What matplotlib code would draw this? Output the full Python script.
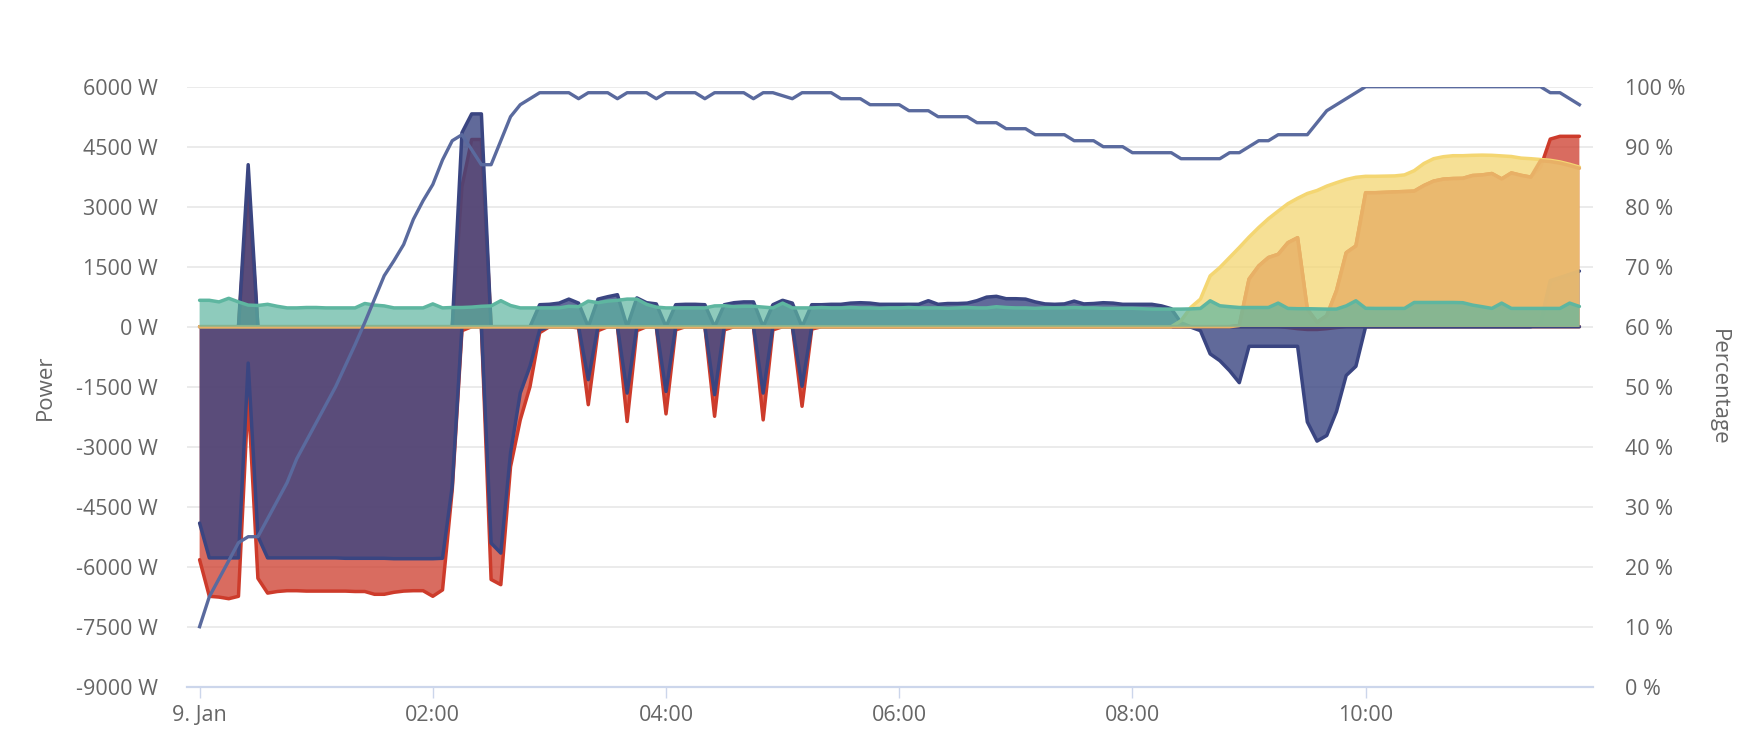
import numpy as np
import matplotlib
matplotlib.use("Agg")
import matplotlib.pyplot as plt

plt.rcParams['font.family'] = ['Open Sans', 'DejaVu Sans']

# ---------------- data (5-minute samples, 9 Jan 00:00 .. 11:50) ----------------
minutes = np.arange(143) * 5

grid_neg = [
    -5825, -6740, -6760, -6800, -6740, -1740, -6290, -6660, -6620, -6600, -6600, -6610,
    -6610, -6610, -6610, -6610, -6620, -6620, -6690, -6690, -6640, -6610, -6600, -6600,
    -6740, -6580, -4080, -100, 0, 0, -6320, -6450, -3500, -2330, -1500, -150,
    0, 0, 0, -30, -1950, -100, 0, 0, -2370, -100, 0, 0,
    -2180, -80, 0, 0, 0, -2240, -80, 0, 0, 0, -2330, -80,
    0, 0, -1990, -60, 0, 0, 0, 0, 0, 0, 0, 0,
    0, 0, 0, 0, 0, 0, 0, 0, 0, 0, 0, 0,
    0, 0, 0, 0, 0, 0, 0, 0, 0, 0, 0, 0,
    0, 0, 0, 0, 0, 0, 0, 0, 0, 0, 0, 0,
    0, 0, 0, 0, -20, -50, -70, -70, -50, -20, 0, 0,
    0, 0, 0, 0, 0, 0, 0, 0, 0, 0, 0, 0,
    0, 0, 0, 0, 0, 0, 0, 0, 0, 0, 0,
]
grid_pos = [
    0, 0, 0, 0, 0, 3480, 0, 0, 0, 0, 0, 0,
    0, 0, 0, 0, 0, 0, 0, 0, 0, 0, 0, 0,
    0, 0, 0, 3500, 4680, 4680, 0, 0, 0, 0, 0, 0,
    0, 0, 0, 0, 0, 0, 0, 0, 0, 0, 0, 0,
    0, 0, 0, 0, 0, 0, 0, 0, 0, 0, 0, 0,
    0, 0, 0, 0, 0, 0, 0, 0, 0, 0, 0, 0,
    0, 0, 0, 0, 0, 0, 0, 0, 0, 0, 0, 0,
    0, 0, 0, 0, 0, 0, 0, 0, 0, 0, 0, 0,
    0, 0, 0, 0, 0, 0, 0, 0, 0, 0, 0, 30,
    1190, 1520, 1730, 1810, 2100, 2225, 440, 110, 275, 900, 1850, 2020,
    3350, 3350, 3360, 3370, 3380, 3390, 3530, 3640, 3690, 3705, 3710, 3780,
    3795, 3830, 3695, 3845, 3785, 3740, 3980, 4690, 4760, 4760, 4760,
]
battery_neg = [
    -4910, -5780, -5780, -5780, -5780, -910, -5240, -5780, -5780, -5780, -5780, -5780,
    -5780, -5780, -5780, -5790, -5790, -5790, -5790, -5790, -5800, -5800, -5800, -5800,
    -5800, -5790, -3990, 0, 0, 0, -5410, -5660, -3160, -1660, -990, -80,
    0, 0, 0, 0, -1325, 0, 0, 0, -1660, 0, 0, 0,
    -1620, 0, 0, 0, 0, -1700, 0, 0, 0, 0, -1660, 0,
    0, 0, -1490, 0, 0, 0, 0, 0, 0, 0, 0, 0,
    0, 0, 0, 0, 0, 0, 0, 0, 0, 0, 0, 0,
    0, 0, 0, 0, 0, 0, 0, 0, 0, 0, 0, 0,
    0, 0, 0, 0, 0, 0, -10, -100, -680, -850, -1100, -1400,
    -490, -490, -490, -490, -490, -490, -2380, -2860, -2720, -2120, -1220, -990,
    0, 0, 0, 0, 0, 0, 0, 0, 0, 0, 0, 0,
    0, 0, 0, 0, 0, 0, 0, 0, 0, 0, 0,
]
battery_pos = [
    0, 0, 0, 0, 0, 4050, 0, 0, 0, 0, 0, 0,
    0, 0, 0, 0, 0, 0, 0, 0, 0, 0, 0, 0,
    0, 0, 0, 4850, 5320, 5320, 0, 0, 0, 0, 0, 550,
    560, 590, 690, 590, 0, 690, 750, 800, 0, 720, 600, 570,
    0, 550, 560, 560, 550, 0, 550, 600, 620, 620, 0, 550,
    660, 590, 0, 550, 550, 560, 560, 590, 600, 590, 560, 560,
    560, 560, 560, 650, 560, 580, 580, 590, 650, 740, 760, 700,
    700, 690, 620, 570, 560, 570, 640, 570, 580, 600, 590, 560,
    560, 560, 560, 520, 450, 100, 0, 0, 0, 0, 0, 0,
    0, 0, 0, 0, 0, 0, 0, 0, 0, 0, 0, 0,
    0, 0, 0, 0, 0, 0, 0, 0, 0, 0, 0, 0,
    0, 0, 0, 0, 0, 0, 100, 1150, 1230, 1310, 1390,
]
pv = [0] * 96 + [
    0, 0, 0, 0, 0, 150, 480, 690, 1270, 1480, 1730, 1980,
    2240, 2480, 2700, 2890, 3075, 3210, 3330, 3405, 3515, 3600, 3680, 3735,
    3760, 3760, 3765, 3770, 3795, 3900, 4080, 4200, 4250, 4275, 4275, 4285,
    4290, 4285, 4270, 4255, 4215, 4200, 4180, 4160, 4120, 4060, 3990,
]
pv_used = [0] * 96 + [
    0, 0, 0, 0, 0, 0, 0, 0, 0, 0, 0, 30,
    1190, 1520, 1730, 1810, 2100, 2225, 440, 110, 275, 900, 1850, 2020,
    3350, 3350, 3360, 3370, 3380, 3390, 3530, 3640, 3690, 3705, 3710, 3780,
    3795, 3830, 3695, 3845, 3785, 3740, 4150, 4130, 4090, 4030, 3960,
]
house = [
    660, 660, 620, 710, 620, 540, 530, 560, 510, 470, 470, 480,
    480, 470, 470, 470, 470, 580, 540, 520, 470, 470, 470, 470,
    570, 470, 480, 480, 490, 510, 520, 650, 530, 470, 470, 470,
    470, 470, 510, 500, 640, 600, 640, 660, 690, 690, 560, 490,
    470, 470, 470, 470, 470, 520, 525, 500, 510, 510, 490, 470,
    590, 470, 470, 470, 480, 470, 470, 480, 470, 470, 460, 470,
    470, 480, 470, 470, 470, 460, 470, 480, 470, 470, 500, 480,
    470, 470, 460, 470, 470, 470, 480, 470, 470, 460, 460, 460,
    460, 450, 440, 440, 440, 440, 445, 457, 648, 523, 500, 480,
    480, 480, 480, 590, 457, 450, 450, 445, 440, 440, 520, 648,
    460, 457, 457, 457, 457, 606, 606, 606, 606, 606, 600, 540,
    500, 457, 590, 457, 457, 457, 457, 457, 457, 590, 506,
]
soc = [
    10, 15, 18, 21, 24, 25, 25, 28, 31, 34, 38, 41,
    44, 47, 50, 53.5, 57, 60.7, 64.6, 68.5, 71, 73.7, 77.9, 81,
    83.7, 87.8, 91, 92, 89.5, 87, 87, 91, 95, 97, 98, 99,
    99, 99, 99, 98, 99, 99, 99, 98, 99, 99, 99, 98,
    99, 99, 99, 99, 98, 99, 99, 99, 99, 98, 99, 99,
    98.5, 98, 99, 99, 99, 99, 98, 98, 98, 97, 97, 97,
    97, 96, 96, 96, 95, 95, 95, 95, 94, 94, 94, 93,
    93, 93, 92, 92, 92, 92, 91, 91, 91, 90, 90, 90,
    89, 89, 89, 89, 89, 88, 88, 88, 88, 88, 89, 89,
    90, 91, 91, 92, 92, 92, 92, 94, 96, 97, 98, 99,
    100, 100, 100, 100, 100, 100, 100, 100, 100, 100, 100, 100,
    100, 100, 100, 100, 100, 100, 100, 99, 99, 98, 97,
]

x_tick_minutes = [0, 120, 240, 360, 480, 600]
x_tick_labels = ["9. Jan", "02:00", "04:00", "06:00", "08:00", "10:00"]
power_ticks = [-9000, -7500, -6000, -4500, -3000, -1500, 0, 1500, 3000, 4500, 6000]
power_labels = [f"{v} W" for v in power_ticks]
pct_ticks = [0, 10, 20, 30, 40, 50, 60, 70, 80, 90, 100]
pct_labels = [f"{v} %" for v in pct_ticks]

# ---------------- styling ----------------
RED = "#cd3b2b"
NAVY = "#3a4581"
YELLOW = "#f4d672"
ORANGE_LINE = "#e8b066"
ORANGE_FILL = "#eab970"
GREEN = "#5eb6a0"
SOC = "#5a6a9e"
TXT = "#666666"

W, H = 1752, 748
fig = plt.figure(figsize=(W / 100, H / 100), dpi=100)
fig.patch.set_facecolor("white")
left, right, top, bottom = 187.3, 1592.8, 86.7, 686.7
ax = fig.add_axes([left / W, 1 - bottom / H, (right - left) / W, (bottom - top) / H])
ax.set_xlim(-6.33, 716.9)
ax.set_ylim(-9000, 6000)

LW = 2.5


def area(vals, color, z, alpha=0.75, fill=None):
    vals = np.asarray(vals, dtype=float)
    ax.fill_between(minutes, 0, vals, facecolor=fill or color, alpha=alpha,
                    linewidth=0, zorder=z)
    ax.plot(minutes, vals, color=color, lw=LW, zorder=z + 0.5,
            solid_joinstyle="round", solid_capstyle="round")


area(grid_neg, RED, 2)
area(grid_pos, RED, 2.1)
area(battery_neg, NAVY, 3, alpha=0.8)
area(battery_pos, NAVY, 3.1, alpha=0.8)
area(pv, YELLOW, 4, alpha=0.75)
area(pv_used, ORANGE_LINE, 5, alpha=0.8, fill=ORANGE_FILL)
area(house, GREEN, 6, alpha=0.7)

ax.set_yticks(power_ticks)
ax.set_yticklabels(power_labels)
ax.set_xticks(x_tick_minutes)
ax.set_xticklabels(x_tick_labels)
ax.grid(axis="y", color="#e6e6e6", lw=1.1)
ax.grid(axis="x", visible=False)
ax.set_axisbelow(True)
for s in ("left", "right", "top"):
    ax.spines[s].set_visible(False)
ax.spines["bottom"].set_color("#ccd6eb")
ax.spines["bottom"].set_linewidth(1.6)
ax.spines["bottom"].set_zorder(10)
ax.tick_params(axis="y", length=0, pad=21, labelsize=15.5, labelcolor=TXT)
ax.tick_params(axis="x", length=8, width=1.0, color="#ccd6eb", pad=5,
               labelsize=15.5, labelcolor=TXT)

ax2 = ax.twinx()
ax2.set_ylim(0, 100)
ax2.plot(minutes, soc, color=SOC, lw=2.4, solid_joinstyle="round", zorder=10)
ax2.set_yticks(pct_ticks)
ax2.set_yticklabels(pct_labels)
for s in ("left", "right", "top", "bottom"):
    ax2.spines[s].set_visible(False)
ax2.tick_params(axis="y", length=0, pad=23, labelsize=15.5, labelcolor=TXT)

fig.text(45 / W, 1 - 387 / H, "Power", rotation=90, ha="center", va="center",
         fontsize=16, color=TXT)
fig.text(1718 / W, 1 - 387 / H, "Percentage", rotation=270, ha="center", va="center",
         fontsize=16, color=TXT)

fig.savefig("out.png", dpi=100, facecolor="white")
